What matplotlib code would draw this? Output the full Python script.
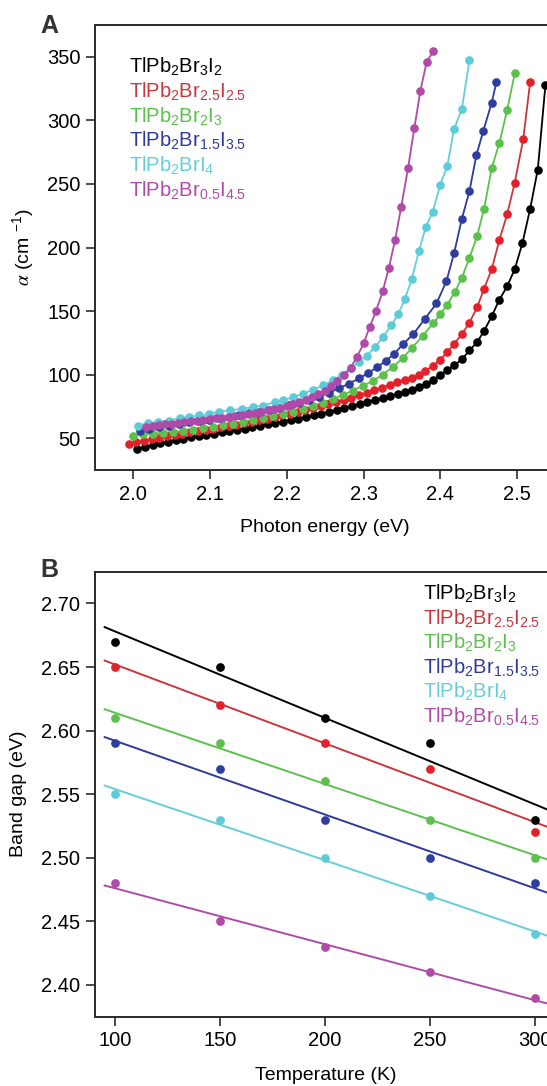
import matplotlib
matplotlib.use("Agg")
import matplotlib.pyplot as plt
import numpy as np

plt.rcParams.update({
    "font.family": "Liberation Sans", "font.size": 14,
    "mathtext.fontset": "custom", "mathtext.rm": "Liberation Sans",
    "mathtext.it": "Liberation Sans:italic", "mathtext.bf": "Liberation Sans:bold",
})

W, H = 547, 1086

# --- series names / colours ---------------------------------------------------
NAMES = [r"TlPb$_2$Br$_3$I$_2$", r"TlPb$_2$Br$_{2.5}$I$_{2.5}$", r"TlPb$_2$Br$_2$I$_3$",
         r"TlPb$_2$Br$_{1.5}$I$_{3.5}$", r"TlPb$_2$BrI$_4$", r"TlPb$_2$Br$_{0.5}$I$_{4.5}$"]
DOT = ["#000000", "#e4202a", "#5cc04c", "#2f3e9e", "#5ecbd8", "#b04aa8"]
LINE = ["#000000", "#c8373e", "#5cc04c", "#2f3a9a", "#66cdd9", "#b04aa8"]

# --- Panel A: absorption spectra (photon energy eV, alpha cm^-1) --------------
E_black = [2.005, 2.015, 2.025, 2.035, 2.045, 2.055, 2.065, 2.075, 2.085, 2.095, 2.105, 2.115,
           2.125, 2.135, 2.145, 2.155, 2.165, 2.175, 2.185, 2.195, 2.205, 2.215, 2.225, 2.235,
           2.245, 2.255, 2.265, 2.275, 2.285, 2.295, 2.305, 2.315, 2.325, 2.335, 2.345, 2.354,
           2.363, 2.372, 2.381, 2.390, 2.399, 2.409, 2.418, 2.428, 2.438, 2.448, 2.457, 2.467,
           2.477, 2.487, 2.497, 2.507, 2.517, 2.527, 2.537]
A_black = [41.8, 43.3, 44.6, 45.9, 47.1, 48.3, 49.5, 50.6, 51.6, 52.6, 53.6, 54.6,
           55.6, 56.6, 57.6, 58.7, 59.8, 60.9, 62.0, 63.1, 64.3, 65.5, 66.7, 68.0,
           69.3, 70.7, 72.1, 73.6, 75.2, 76.9, 78.8, 80.3, 81.9, 83.5, 85.1, 86.7,
           88.3, 90.2, 92.5, 95.6, 99.4, 103.3, 107.2, 112.0, 119.0, 125.6, 134.3, 146.0,
           159.0, 169.4, 183.0, 203.5, 230.3, 261.3, 328.0]

E_red = [1.994, 2.004, 2.014, 2.024, 2.034, 2.044, 2.054, 2.064, 2.074, 2.084, 2.094, 2.104,
         2.114, 2.124, 2.134, 2.144, 2.154, 2.164, 2.174, 2.184, 2.194, 2.204, 2.214, 2.224,
         2.234, 2.244, 2.254, 2.264, 2.274, 2.284, 2.294, 2.304, 2.314, 2.324, 2.334, 2.344,
         2.354, 2.363, 2.372, 2.380, 2.390, 2.399, 2.409, 2.418, 2.428, 2.438, 2.448, 2.457,
         2.467, 2.477, 2.487, 2.497, 2.508, 2.517]
A_red = [45.6, 46.8, 48.0, 49.2, 50.3, 51.4, 52.5, 53.5, 54.5, 55.5, 56.5, 57.5,
         58.5, 59.6, 60.7, 61.8, 62.9, 64.1, 65.3, 66.6, 67.9, 69.2, 70.6, 72.0,
         73.5, 75.0, 76.6, 78.2, 79.9, 81.7, 83.6, 85.6, 87.7, 89.8, 91.9, 94.0,
         95.8, 97.6, 100.0, 102.8, 106.7, 111.2, 117.7, 124.3, 131.7, 141.0, 153.0, 167.6,
         183.0, 206.0, 226.0, 251.0, 285.0, 330.0]

E_green = [2.000, 2.013, 2.026, 2.039, 2.052, 2.065, 2.078, 2.091, 2.104, 2.117, 2.130, 2.143,
           2.156, 2.169, 2.182, 2.195, 2.208, 2.221, 2.234, 2.247, 2.260, 2.273, 2.286, 2.299,
           2.312, 2.325, 2.338, 2.351, 2.363, 2.377, 2.391, 2.400, 2.409, 2.419, 2.428, 2.438,
           2.448, 2.457, 2.467, 2.477, 2.487, 2.497]
A_green = [52.0, 53.0, 53.6, 54.3, 55.0, 55.8, 56.8, 57.9, 59.0, 60.2, 61.5, 62.8,
           64.2, 65.7, 67.3, 69.0, 70.9, 73.0, 75.4, 78.0, 80.8, 84.0, 87.5, 91.3,
           95.0, 100.0, 106.0, 113.0, 121.0, 130.5, 140.5, 147.5, 155.0, 165.0, 176.0, 192.0,
           209.0, 230.6, 262.6, 282.3, 308.0, 337.0]

E_blue = [2.008, 2.021, 2.034, 2.047, 2.060, 2.073, 2.086, 2.099, 2.112, 2.125, 2.138, 2.151,
          2.164, 2.177, 2.190, 2.203, 2.216, 2.229, 2.242, 2.255, 2.268, 2.281, 2.294, 2.306,
          2.318, 2.329, 2.340, 2.352, 2.365, 2.380, 2.395, 2.408, 2.418, 2.428, 2.438, 2.447,
          2.456, 2.467, 2.473]
A_blue = [56.0, 57.5, 58.8, 60.0, 61.2, 62.4, 63.5, 64.6, 65.8, 67.0, 68.3, 69.6,
          71.0, 72.5, 74.1, 75.8, 77.8, 80.2, 82.8, 85.8, 89.2, 93.0, 97.0, 101.2,
          106.0, 110.8, 116.5, 124.3, 132.0, 144.0, 156.0, 173.6, 195.7, 222.4, 244.5, 272.6,
          291.7, 314.0, 329.8]

E_cyan = [2.006, 2.019, 2.032, 2.046, 2.061, 2.072, 2.085, 2.098, 2.111, 2.126, 2.141, 2.156,
          2.169, 2.184, 2.195, 2.208, 2.221, 2.234, 2.247, 2.260, 2.272, 2.283, 2.294, 2.304,
          2.315, 2.325, 2.336, 2.345, 2.354, 2.363, 2.372, 2.381, 2.390, 2.400, 2.409, 2.418,
          2.428, 2.438]
A_cyan = [60.0, 61.8, 62.6, 63.9, 66.0, 66.5, 67.9, 68.7, 71.0, 71.8, 73.1, 74.4,
          75.7, 78.3, 79.7, 82.3, 85.0, 88.0, 91.5, 95.5, 100.0, 105.0, 110.0, 115.0,
          121.6, 129.5, 138.7, 147.4, 159.8, 175.5, 197.0, 216.0, 228.0, 249.5, 264.0, 293.3,
          308.8, 347.4]

E_mag = [2.016, 2.025, 2.033, 2.041, 2.050, 2.058, 2.066, 2.075, 2.083, 2.091, 2.100, 2.108,
         2.116, 2.125, 2.133, 2.141, 2.150, 2.158, 2.166, 2.175, 2.183, 2.191, 2.200, 2.208,
         2.216, 2.225, 2.233, 2.241, 2.250, 2.258, 2.266, 2.275, 2.283, 2.291, 2.300, 2.308,
         2.316, 2.325, 2.333, 2.341, 2.349, 2.358, 2.366, 2.374, 2.382, 2.391]
A_mag = [59.0, 59.6, 60.2, 60.8, 61.4, 62.0, 62.6, 63.2, 63.8, 64.4, 65.0, 65.6,
         66.2, 66.9, 67.6, 68.3, 69.1, 69.9, 70.8, 71.8, 72.9, 74.1, 75.4, 76.8,
         78.4, 80.2, 82.3, 84.7, 87.5, 90.8, 94.7, 99.4, 105.5, 113.5, 124.5, 137.4,
         149.8, 165.7, 184.2, 205.7, 231.9, 262.6, 293.6, 323.2, 345.6, 354.7]

SPECTRA = [(E_black, A_black), (E_red, A_red), (E_green, A_green),
           (E_blue, A_blue), (E_cyan, A_cyan), (E_mag, A_mag)]

# --- Panel B: band gap vs temperature -----------------------------------------
TEMP = [100, 150, 200, 250, 300]
GAP_black = [2.67, 2.65, 2.61, 2.59, 2.53]
GAP_red = [2.65, 2.62, 2.59, 2.57, 2.52]
GAP_green = [2.61, 2.59, 2.56, 2.53, 2.50]
GAP_blue = [2.59, 2.57, 2.53, 2.50, 2.48]
GAP_cyan = [2.55, 2.53, 2.50, 2.47, 2.44]
GAP_mag = [2.48, 2.45, 2.43, 2.41, 2.39]
GAPS = [GAP_black, GAP_red, GAP_green, GAP_blue, GAP_cyan, GAP_mag]

SPINE = "#2b2b2b"


def fx(px):
    return px / W


def fy(py):
    return 1 - py / H


def style(ax):
    for s in ("left", "bottom", "top"):
        ax.spines[s].set_linewidth(1.4)
        ax.spines[s].set_color(SPINE)
    ax.spines["right"].set_visible(False)
    ax.tick_params(direction="out", length=6.5, width=1.2, color=SPINE,
                   labelsize=14.5, pad=4, top=False, right=False)


fig = plt.figure(figsize=(W / 100, H / 100), dpi=100)

# Panel A
axA = fig.add_axes([fx(95), fy(470), fx(547 - 95), (470 - 25) / H])
for (e, a), dc, lc in zip(SPECTRA, DOT, LINE):
    axA.plot(e, a, "-", color=lc, lw=1.3, zorder=2)
    axA.plot(e, a, "o", color=dc, ms=6.2, mew=0, zorder=3)
axA.set_xlim(1.950, 2.539)
axA.set_ylim(25, 375)
axA.set_xticks([2.0, 2.1, 2.2, 2.3, 2.4, 2.5])
axA.set_xticklabels([f"{v:.1f}" for v in [2.0, 2.1, 2.2, 2.3, 2.4, 2.5]])
axA.set_yticks([50, 100, 150, 200, 250, 300, 350])
style(axA)

# Panel B
axB = fig.add_axes([fx(95), fy(1016.7), fx(547 - 95), (1016.7 - 571.7) / H])
tfit = np.array([95, 310])
for g, dc, lc in zip(GAPS, DOT, LINE):
    k, b = np.polyfit(TEMP, g, 1)
    axB.plot(tfit, k * tfit + b, "-", color=lc, lw=1.4, zorder=2)
    axB.plot(TEMP, g, "o", color=dc, ms=6.3, mew=0, zorder=3)
axB.set_xlim(90.4, 305.8)
axB.set_ylim(2.375, 2.725)
axB.set_xticks([100, 150, 200, 250, 300])
yt = [2.40, 2.45, 2.50, 2.55, 2.60, 2.65, 2.70]
axB.set_yticks(yt)
axB.set_yticklabels([f"{v:.2f}" for v in yt])
style(axB)

# legends (coloured text)
for i, (n, c) in enumerate(zip(NAMES, LINE)):
    fig.text(fx(129), fy(73 + 24.7 * i), n, color=c, fontsize=14.5, va="baseline", ha="left")
    fig.text(fx(423), fy(600 + 24.5 * i), n, color=c, fontsize=14.5, va="baseline", ha="left")

# axis labels
fig.text(fx(325), fy(527), "Photon energy (eV)", ha="center", va="center", fontsize=14)
fig.text(fx(24), fy(247), r"$\alpha$ (cm $^{\mathregular{-1}}$)", ha="center", va="center",
         rotation=90, fontsize=14, math_fontfamily="stix")
fig.text(fx(326), fy(1075), "Temperature (K)", ha="center", va="center", fontsize=14)
fig.text(fx(19), fy(794), "Band gap (eV)", ha="center", va="center", rotation=90, fontsize=14)

# panel letters
fig.text(fx(40), fy(33), "A", fontsize=18, fontweight="bold", ha="left", va="baseline",
         color="#333333")
fig.text(fx(40), fy(577), "B", fontsize=18, fontweight="bold", ha="left", va="baseline",
         color="#333333")

fig.savefig("out.png", dpi=100)
